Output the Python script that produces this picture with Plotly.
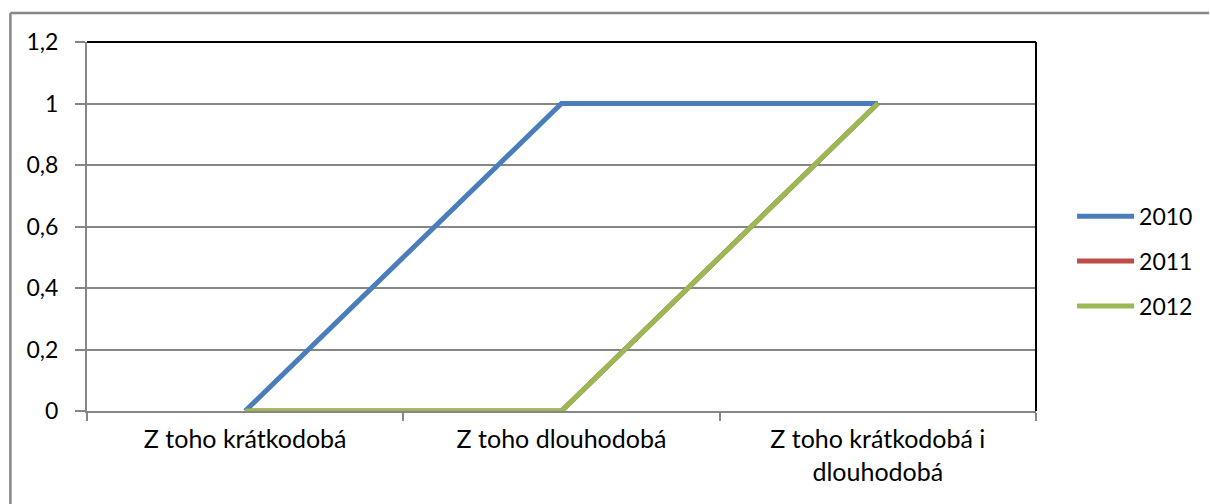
import plotly.graph_objects as go

# Categories (x axis) and series values
categories = ["Z toho krátkodobá", "Z toho dlouhodobá", "Z toho krátkodobá i<br>dlouhodobá"]
series_names = ["2010", "2011", "2012"]
values_2010 = [0, 1, 1]
values_2011 = [0, 0, 1]
values_2012 = [0, 0, 1]
y_ticks = [0, 0.2, 0.4, 0.6, 0.8, 1, 1.2]

colors = ["#4A7EBB", "#BE4B48", "#98B954"]
FONT = "Lato, Carlito, Calibri, sans-serif"
FS = 23      # numbers and legend
FS_CAT = 25  # category labels

W, H = 1210, 504
L, R, T, B = 87, 1041, 42, 411  # plot area in pixels

fig = go.Figure()
for name, vals, col in zip(series_names, [values_2010, values_2011, values_2012], colors):
    fig.add_trace(go.Scatter(
        x=categories, y=vals, name=name, mode="lines",
        line=dict(color=col, width=5),
        legendgroup=name,
    ))

fig.update_layout(
    width=W, height=H,
    margin=dict(l=L, r=W - R, t=T, b=H - B),
    paper_bgcolor="white", plot_bgcolor="white",
    separators=", ",
    font=dict(family=FONT, size=FS, color="black"),
    showlegend=True,
    legend=dict(
        x=1.038, y=0.406, xanchor="left", yanchor="middle",
        font=dict(size=FS, color="black"),
        itemwidth=57, tracegroupgap=12,
        bgcolor="rgba(0,0,0,0)",
    ),
    xaxis=dict(
        type="category", range=[-0.5, 2.5],
        tickson="boundaries", ticks="outside", ticklen=8,
        tickcolor="#868686", tickwidth=2,
        showline=True, linecolor="#868686", linewidth=2,
        showgrid=False, zeroline=False,
        tickfont=dict(size=FS_CAT),
        ticklabelstandoff=5,
    ),
    yaxis=dict(
        range=[0, 1.2], tickvals=y_ticks,
        ticktext=[f"{v:g}".replace(".", ",") for v in y_ticks],
        ticks="outside", ticklen=10, tickcolor="#868686", tickwidth=2,
        showline=True, linecolor="#868686", linewidth=2,
        showgrid=True, gridcolor="#868686", gridwidth=1.5,
        zeroline=False,
        tickfont=dict(size=FS),
        ticklabelstandoff=12,
    ),
)

# Plot-area border (top and right edges) in black
fig.add_shape(type="line", xref="paper", yref="paper", x0=0, x1=1, y0=1, y1=1,
              line=dict(color="black", width=2))
fig.add_shape(type="line", xref="paper", yref="paper", x0=1, x1=1, y0=0, y1=1,
              line=dict(color="black", width=2))

# Chart-area frame: left and top edges visible
pw, ph = R - L, B - T
def px_x(px):
    return (px - L) / pw
def px_y(py):
    return (B - py) / ph
fig.add_shape(type="line", xref="paper", yref="paper",
              x0=px_x(10), x1=px_x(1215), y0=px_y(13), y1=px_y(13),
              line=dict(color="#868686", width=2.5), layer="above")
fig.add_shape(type="line", xref="paper", yref="paper",
              x0=px_x(10), x1=px_x(10), y0=px_y(13), y1=px_y(510),
              line=dict(color="#868686", width=2.5), layer="above")

fig.write_html("out.html")
